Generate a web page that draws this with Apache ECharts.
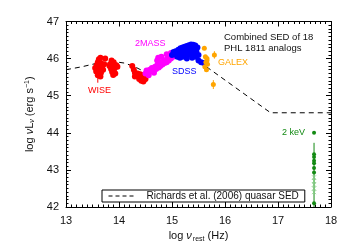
<!DOCTYPE html>
<html><head><meta charset="utf-8">
<script src="https://cdn.jsdelivr.net/npm/echarts@6/dist/echarts.min.js"></script>
<style>html,body{margin:0;padding:0;background:#fff}#c{width:350px;height:250px}</style>
</head><body><div id="c"></div>
<script>
// Axis ranges / ticks
const xTicks = [13, 14, 15, 16, 17, 18];
const yTicks = [42, 43, 44, 45, 46, 47];

// Richards et al. (2006) mean quasar SED (dashed)
const richardsSED = [[13.0,45.70],[13.3,45.78],[13.6,45.88],[13.9,45.92],[14.1,45.88],[14.3,45.78],[14.5,45.63],[14.62,45.6],[14.8,45.8],[15.0,46.0],[15.2,46.1],[15.35,46.1],[15.5,45.95],[15.65,45.78],[16.86,44.54],[18.0,44.54]];

// WISE (red)
const wise = [[13.62,45.98],[13.65,46.02],[13.60,45.90],[13.66,45.88],[13.58,45.82],[13.63,45.80],[13.68,45.76],[13.60,45.72],[13.64,45.68],[13.57,45.65],[13.66,45.62],[13.62,45.58],[13.60,45.55],[13.65,45.52],[13.70,45.70],[13.55,45.75],[13.72,45.85],[13.74,46.0],
 [13.86,45.95],[13.90,45.90],[13.83,45.85],[13.95,45.82],[13.88,45.78],[13.92,45.75],[13.85,45.72],[13.90,45.68],[13.87,45.64],[13.93,45.60],[13.89,45.56],[13.97,45.78],[13.82,45.80],
 [14.25,45.80],[14.28,45.70],[14.30,45.62],[14.33,45.58],[14.36,45.55],[14.40,45.50],[14.43,45.48],[14.45,45.45],[14.38,45.45],[14.42,45.40],[14.47,45.42],[14.35,45.60],[14.30,45.52],[14.40,45.58],[14.48,45.50],[14.44,45.55],[14.50,45.45],[14.46,45.38]];
const wiseErr = [[13.60,45.35,45.70]];

// 2MASS (magenta)
const twomass = [[14.50,45.60],[14.52,45.68],[14.55,45.62],[14.58,45.70],[14.60,45.65],[14.62,45.75],[14.65,45.70],[14.68,45.78],[14.70,45.72],[14.72,45.82],[14.75,45.76],[14.76,45.86],[14.78,45.80],[14.80,45.90],[14.82,45.84],[14.84,45.92],[14.86,45.88],[14.88,45.96],[14.90,45.90],[14.92,46.00],[14.94,45.95],[14.96,46.05],[14.98,46.00],[15.00,46.08],[15.02,46.05],[14.80,46.05],[14.72,45.95],[14.56,45.55],[14.66,45.62],[14.90,46.12],[14.74,46.02],[14.98,46.15]];

// SDSS (blue)
const sdss = [[15.00,46.10],[15.03,46.18],[15.05,46.12],[15.07,46.20],[15.10,46.15],[15.12,46.24],[15.14,46.10],[15.16,46.28],[15.18,46.20],[15.20,46.30],[15.22,46.15],[15.24,46.32],[15.26,46.22],[15.28,46.34],[15.30,46.25],[15.32,46.36],[15.34,46.20],[15.36,46.38],[15.38,46.30],[15.40,46.37],[15.42,46.25],[15.44,46.35],[15.46,46.20],[15.48,46.30],[15.50,46.10],[15.20,46.05],[15.25,46.08],[15.30,46.10],[15.35,46.12],[15.40,46.15],[15.15,46.02],[15.10,46.05],[15.45,46.05],[15.28,46.00],[15.38,46.02],[15.50,45.95],[15.55,45.90],[15.60,45.88],[15.32,46.30],[15.22,46.22],[15.12,46.18],[15.42,46.30]];

// GALEX (orange)
const galex = [[15.61,46.28],[15.63,46.05],[15.66,45.95],[15.64,45.90],[15.62,45.78],[15.65,45.70],[15.67,45.85],[15.66,46.00],[15.80,46.10],[15.78,45.30]];
const galexErr = [[15.80,46.00,46.20],[15.78,45.18,45.42]];

// 2 keV X-ray (green)
const xray = [[17.68,44.00],[17.68,43.42],[17.68,43.35],[17.68,43.25],[17.68,43.18],[17.68,43.05],[17.68,42.93],[17.68,42.10]];
const xrayLimits = [[17.68,42.80],[17.68,42.70],[17.68,42.60],[17.68,42.50],[17.68,42.40]];
const xrayErr = [[17.68,42.0,43.73]];

const chart = echarts.init(document.getElementById('c'), null, {renderer:'canvas'});
const FONT = 'Liberation Sans';
const axisCommon = {
  interval: 1,
  axisLine: {show: true, onZero: false, lineStyle: {color: '#000', width: 1}},
  axisTick: {show: true, inside: true, length: 5, lineStyle: {color: '#000'}},
  minorTick: {show: true, splitNumber: 10, length: 2.5, lineStyle: {color: '#000'}},
  splitLine: {show: false}
};
function xAx(extra){ return Object.assign({}, axisCommon, {type:'value', min: xTicks[0], max: xTicks[xTicks.length-1]}, extra); }
function yAx(extra){ return Object.assign({}, axisCommon, {type:'value', min: yTicks[0], max: yTicks[yTicks.length-1]}, extra); }

function errSeries(name, data, color){
  return {
    type: 'custom', name: name, silent: true,
    renderItem: function(params, api){
      const p1 = api.coord([api.value(0), api.value(1)]);
      const p2 = api.coord([api.value(0), api.value(2)]);
      return {type:'line', shape:{x1:p1[0], y1:p1[1], x2:p2[0], y2:p2[1]}, style:{stroke: color, lineWidth: 1}};
    },
    encode: {x: 0, y: [1,2]},
    data: data, z: 2
  };
}

const LEGEND_NAME = 'Richards et al. (2006) quasar SED';
const option = {
  animation: false,
  textStyle: {fontFamily: FONT},
  grid: {left: 66, right: 19, top: 21.5, bottom: 43, containLabel: false},
  xAxis: [
    xAx({position:'bottom', axisLabel:{show:true, margin: 8, color:'#111', fontSize: 11, fontFamily: FONT},
      name: '{a|log }{i|ν}{s|rest}{a| (Hz)}', nameLocation:'middle', nameGap: 22,
      nameTextStyle:{color:'#111', rich:{a:{fontSize:11, fontFamily:FONT, color:'#111'}, i:{fontSize:11, fontStyle:'italic', fontFamily:FONT, color:'#111'}, s:{fontSize:7, fontFamily:FONT, color:'#111', padding:[5,0,0,1]}}}}),
    xAx({position:'top', axisLabel:{show:false}})
  ],
  yAxis: [
    yAx({position:'left', axisLabel:{show:true, margin: 7, color:'#111', fontSize: 11, fontFamily: FONT},
      name: '{a|log }{i|ν}{a|L}{s|ν}{a| (erg s}{p|−1}{a|)}', nameLocation:'middle', nameGap: 20,
      nameTextStyle:{color:'#111', rich:{a:{fontSize:11, fontFamily:FONT, color:'#111'}, i:{fontSize:11, fontStyle:'italic', fontFamily:FONT, color:'#111'}, s:{fontSize:7, fontStyle:'italic', fontFamily:FONT, color:'#111', padding:[5,0,0,0]}, p:{fontSize:7, fontFamily:FONT, color:'#111', padding:[0,0,6,0]}}}}),
    yAx({position:'right', axisLabel:{show:false}})
  ],
  legend: {
    show: true, left: 102, top: 190, orient: 'horizontal',
    data: [LEGEND_NAME],
    borderColor: '#000', borderWidth: 1, borderRadius: 0,
    padding: [1, 6, 1, 6], itemWidth: 28, itemHeight: 8, itemGap: 5,
    itemStyle: {opacity: 0},
    lineStyle: {color: '#000', width: 1, type: [4, 3], opacity: 1},
    textStyle: {fontSize: 10, color: '#111', fontFamily: FONT, padding: [0, 0, 0, 5]},
    selectedMode: false
  },
  series: [
    {type:'line', name: LEGEND_NAME, data: richardsSED, showSymbol:false, symbol:'none',
      lineStyle:{color:'#000', width:1, type:[5,4]}, itemStyle:{color:'#000'}, z: 1, silent:true},
    errSeries('wiseErr', wiseErr, '#ff0000'),
    errSeries('galexErr', galexErr, '#ffa500'),
    errSeries('xrayErr', xrayErr, '#138a13'),
    {type:'scatter', name:'WISE', data: wise, symbol:'circle', symbolSize: 6, itemStyle:{color:'#ff0000', opacity:1}, z:3, silent:true},
    {type:'scatter', name:'2MASS', data: twomass, symbol:'circle', symbolSize: 6, itemStyle:{color:'#ff00ff', opacity:1}, z:3, silent:true},
    {type:'scatter', name:'SDSS', data: sdss, symbol:'circle', symbolSize: 6, itemStyle:{color:'#0000ff', opacity:1}, z:4, silent:true},
    {type:'scatter', name:'GALEX', data: galex, symbol:'circle', symbolSize: 5, itemStyle:{color:'#ffa500', opacity:1}, z:5, silent:true},
    {type:'scatter', name:'X-ray', data: xray, symbol:'circle', symbolSize: 4, itemStyle:{color:'#138a13', opacity:1}, z:5, silent:true},
    {type:'scatter', name:'X-ray limits', data: xrayLimits, symbol:'path://M0,0L10,10M10,0L0,10', symbolSize: 4, itemStyle:{color:'none', borderColor:'#7fcf7f', borderWidth:1}, z:5, silent:true}
  ],
  graphic: [
    {type:'text', left: 224, top: 32, style:{text:'Combined SED of 18', fontSize: 9.5, fill:'#111', fontFamily: FONT}},
    {type:'text', left: 224, top: 43, style:{text:'PHL 1811 analogs', fontSize: 9.5, fill:'#111', fontFamily: FONT}},
    {type:'text', left: 135, top: 39, style:{text:'2MASS', fontSize: 9, fill:'#ff00ff', fontFamily: FONT}},
    {type:'text', left: 172, top: 67, style:{text:'SDSS', fontSize: 9, fill:'#0000ff', fontFamily: FONT}},
    {type:'text', left: 218, top: 58, style:{text:'GALEX', fontSize: 9, fill:'#ffa500', fontFamily: FONT}},
    {type:'text', left: 88, top: 86, style:{text:'WISE', fontSize: 9, fill:'#ff0000', fontFamily: FONT}},
    {type:'text', left: 282, top: 128, style:{text:'2 keV', fontSize: 9, fill:'#138a13', fontFamily: FONT}}
  ]
};
chart.setOption(option);
</script>
</body></html>
